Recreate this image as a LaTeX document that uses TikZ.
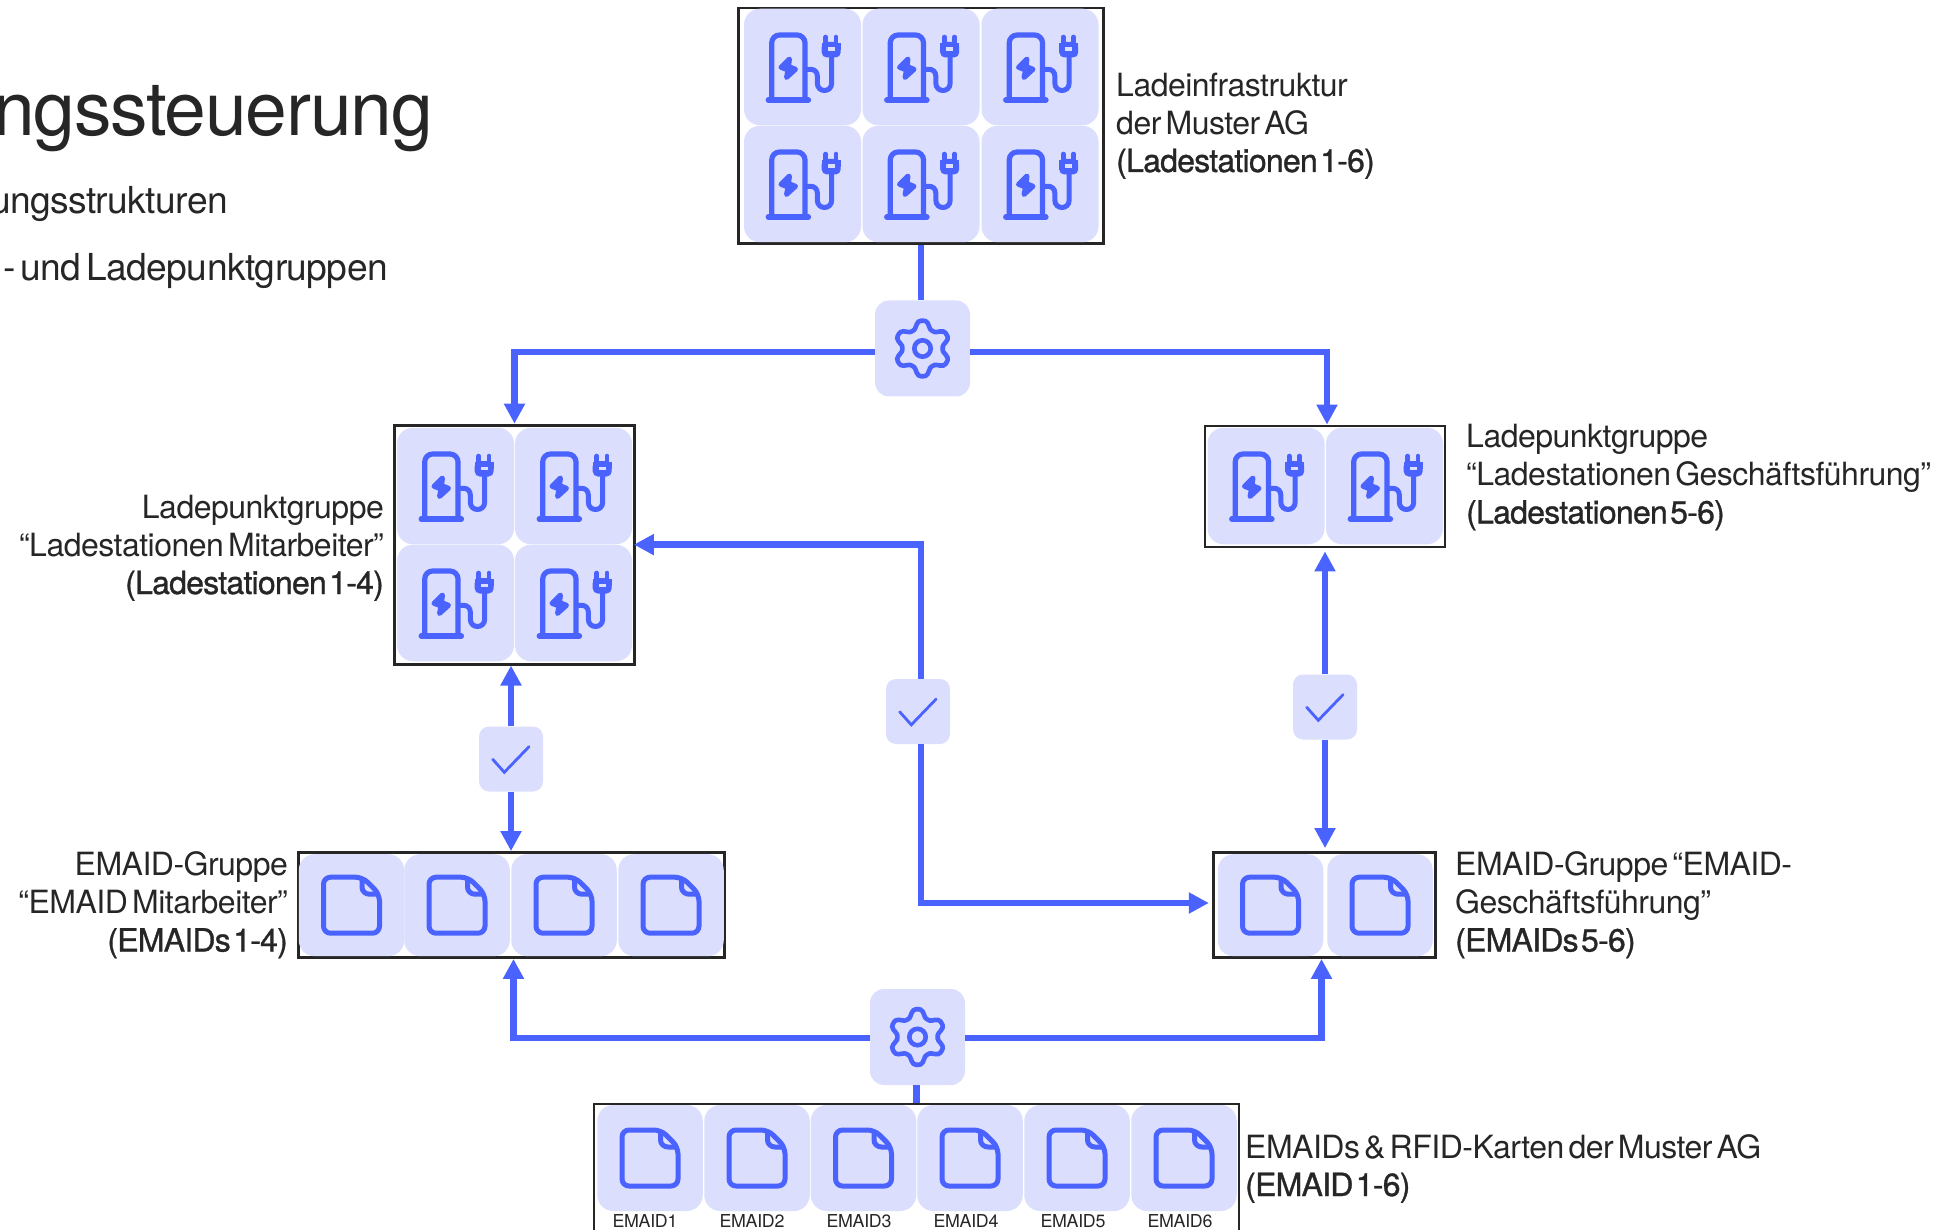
\documentclass[tikz,border=0pt]{standalone}
\usepackage{fontspec}
\setmainfont[LetterSpace=-1.6,WordSpace=0.5]{TeX Gyre Heros}
\newfontfamily\boldlbl[LetterSpace=-2.4,WordSpace=0.3,FakeBold=1]{TeX Gyre Heros}
\usetikzlibrary{arrows.meta}
\definecolor{flowblue}{HTML}{4A63FF}
\definecolor{tileblue}{HTML}{DCDEFD}
\definecolor{inkdark}{HTML}{262626}
\tikzset{
  framebox/.style={draw=inkdark,line width=2.8pt,fill=white,inner sep=0pt},
  tilebox/.style={fill=tileblue,rounded corners=16pt,inner sep=0pt,minimum width=#1},
  tilebox/.default=117pt,
  hubbox/.style={fill=tileblue,rounded corners=14pt,inner sep=0pt,minimum width=95pt,minimum height=96pt},
  checkbox/.style={fill=tileblue,rounded corners=10pt,inner sep=0pt,minimum width=64pt,minimum height=65pt},
  flow/.style={draw=flowblue,line width=6.5pt,-},
  flowarrow/.style={flow,-{Triangle[width=20pt,length=20pt]}},
  lbl/.style={font=\fontsize{32}{37.9}\selectfont,text=inkdark,inner sep=0pt},
  headline/.style={text=inkdark,inner sep=0pt},
  pics/charger/.style={code={
    \draw[flowblue,line width=5.2pt,line cap=round] (-34.3,33) -- (6,33);
    \draw[flowblue,line width=5.2pt,rounded corners=8pt] (-30.8,33) -- (-30.8,-32) -- (2.5,-32) -- (2.5,33);
    \draw[flowblue,line width=5pt] (2.5,2.3) -- (8,2.3) .. controls (12,2.3) and (14.8,5) .. (14.8,9) -- (14.8,16) .. controls (14.8,26) and (29.2,26) .. (29.2,16) -- (29.2,-10);
    \fill[flowblue,rounded corners=5pt] (19.2,-25) -- (38.2,-25) -- (38.2,-9.5) -- (19.2,-9.5) -- cycle;
    \fill[flowblue] (19.2,-24.3) rectangle (38.2,-17);
    \fill[tileblue] (25,-19.5) rectangle (32,-16);
    \draw[flowblue,line width=4.6pt,line cap=round] (23.2,-30) -- (23.2,-24) (33.5,-30) -- (33.5,-24);
    \filldraw[flowblue,line width=5pt,line join=round] (-13,-8) -- (-21.5,0.3) -- (-14.5,3) -- (-16,10.5) -- (-7,2.3) -- (-14,-0.5) -- cycle;
  }},
  pics/docfile/.style={code={
    \draw[flowblue,line width=5pt,rounded corners=7pt,line join=round] (-28,-28) -- (11,-28) -- (28,-11) -- (28,28) -- (-28,28) -- cycle;
    \draw[flowblue,line width=5pt] (10.5,-27) -- (10.5,-18) .. controls (10.5,-14) and (14,-11) .. (18,-11) -- (27,-11);
  }},
  pics/cogwheel/.style={code={
    \draw[flowblue,line width=4.6pt] plot[smooth cycle,samples=73,domain=0:355] ({(24+3.8*cos(6*(\x-90))*(1.5-0.5*cos(6*(\x-90))*cos(6*(\x-90))))*cos(\x)},{(24+3.8*cos(6*(\x-90))*(1.5-0.5*cos(6*(\x-90))*cos(6*(\x-90))))*sin(\x)});
    \draw[flowblue,line width=4.6pt] (0,0) circle[radius=8.2pt];
  }},
  pics/tick/.style={code={
    \draw[flowblue,line width=2.8pt,line cap=round,line join=miter] (-18.3,0.3) -- (-6.7,13.3) -- (18,-12.3);
  }},
}
\begin{document}
\begin{tikzpicture}[x=1pt,y=-1pt,>=Stealth]
  \clip (0,0) rectangle (1941,1230);

  \node[headline,anchor=base east,font=\fontsize{75}{75}\selectfont] (titleText) at (433,136) {ngssteuerung};
  \node[headline,anchor=base east,font=\fontsize{37.2}{37.2}\selectfont] (subOne) at (228,213.5) {ungsstrukturen};
  \node[headline,anchor=base east,font=\fontsize{37.2}{37.2}\selectfont] (subTwo) at (388,281) {- und Ladepunktgruppen};

  \node[framebox,minimum width=364.5pt,minimum height=235.5pt] (frameTop) at (921,125.8) {};
  \node[framebox,minimum width=240pt,minimum height=239pt] (frameLeft) at (514.5,544.6) {};
  \node[framebox,minimum width=240pt,minimum height=121pt] (frameRight) at (1325,486.5) {};
  \node[framebox,minimum width=426pt,minimum height=105pt] (frameEmaidLeft) at (511.5,905) {};
  \node[framebox,minimum width=222.5pt,minimum height=105pt] (frameEmaidRight) at (1324.5,905) {};
  \node[framebox,minimum width=645pt,minimum height=160pt] (frameBottom) at (916.5,1184) {};

  \foreach \cx/\nm in {802.5/a,921/b,1040/c}
    \foreach \cy/\rw in {67/1,184/2} {
      \node[tilebox,minimum height=116.5pt] (top\nm\rw) at (\cx,\cy) {};
      \pic at (top\nm\rw) {charger};
    }
  \foreach \cx/\nm in {455.5/a,573.5/b}
    \foreach \cy/\rw in {486/1,603/2} {
      \node[tilebox,minimum height=116.5pt] (mit\nm\rw) at (\cx,\cy) {};
      \pic at (mit\nm\rw) {charger};
    }
  \foreach \cx/\nm in {1266/a,1384.5/b} {
    \node[tilebox,minimum height=116.5pt] (chef\nm) at (\cx,486) {};
    \pic at (chef\nm) {charger};
  }
  \foreach \cx/\nm in {351.5/a,457/b,564/c,671/d} {
    \node[tilebox=105.5pt,minimum height=102pt] (doc\nm) at (\cx,905.2) {};
    \pic at (doc\nm) {docfile};
  }
  \foreach \cx/\nm in {1270.5/a,1380/b} {
    \node[tilebox=105.5pt,minimum height=102pt] (docchef\nm) at (\cx,905.2) {};
    \pic at (docchef\nm) {docfile};
  }
  \foreach \cx/\nm/\lx in {650/1/645,757/2/752,863.5/3/859,970/4/966,1077/5/1073,1184/6/1180} {
    \node[tilebox=105.5pt,minimum height=106pt] (card\nm) at (\cx,1158) {};
    \pic at (card\nm) {docfile};
    \node[anchor=base,font=\fontsize{17.8}{17.8}\selectfont,text=inkdark,inner sep=0pt] (cardText\nm) at (\lx,1227) {EMAID\nm};
  }

  \node[hubbox] (gearTop) at (922.5,348.5) {};
  \pic at (gearTop) {cogwheel};
  \node[hubbox] (gearBottom) at (917.5,1037) {};
  \pic at (gearBottom) {cogwheel};
  \node[checkbox] (checkLeft) at (511,759) {};
  \pic at (checkLeft) {tick};
  \node[checkbox] (checkMid) at (918,711.5) {};
  \pic at (checkMid) {tick};
  \node[checkbox] (checkRight) at (1325,707) {};
  \pic at (checkRight) {tick};

  \draw[flow] (frameTop.south) -- (gearTop.north -| frameTop.south);
  \draw[flowarrow] ([yshift=-3.5pt]gearTop.west) -| (frameLeft.north);
  \draw[flowarrow] ([yshift=-3.5pt]gearTop.east) -| ([xshift=2pt]frameRight.north);
  \draw[flow] (gearBottom.south -| frameBottom.north) -- (frameBottom.north);
  \draw[flowarrow] ([yshift=-1pt]gearBottom.west) -| ([xshift=2pt]frameEmaidLeft.south);
  \draw[flowarrow] ([yshift=-1pt]gearBottom.east) -| ([xshift=-3pt]frameEmaidRight.south);
  \draw[flowarrow] (checkLeft.north) -- (frameLeft.south -| checkLeft.north);
  \draw[flowarrow] (checkLeft.south) -- (frameEmaidLeft.north -| checkLeft.south);
  \draw[flowarrow,shorten >=-2pt] ([xshift=3pt]checkMid.north) |- (frameLeft.east);
  \draw[flowarrow,shorten >=3pt] ([xshift=3pt]checkMid.south) |- ([yshift=2pt]frameEmaidRight.west);
  \draw[flowarrow,shorten >=3pt] (checkRight.north) -- (frameRight.south -| checkRight.north);
  \draw[flowarrow,shorten >=3pt] (checkRight.south) -- (frameEmaidRight.north -| checkRight.south);

  \node[lbl,anchor=base west,align=left] (topText) at (1116,172) {Ladeinfrastruktur\\der Muster AG\\{\boldlbl (Ladestationen 1-6)}};
  \node[lbl,anchor=base east,align=right] (leftText) at (384,594) {Ladepunktgruppe\\“Ladestationen Mitarbeiter”\\{\boldlbl (Ladestationen 1-4)}};
  \node[lbl,anchor=base west,align=left] (rightText) at (1466,523.5) {Ladepunktgruppe\\“Ladestationen Geschäftsführung”\\{\boldlbl (Ladestationen 5-6)}};
  \node[lbl,anchor=base east,align=right] (emaidLeftText) at (288,951.5) {EMAID-Gruppe\\“EMAID Mitarbeiter”\\{\boldlbl (EMAIDs 1-4)}};
  \node[lbl,anchor=base west,align=left] (emaidRightText) at (1455,951.5) {EMAID-Gruppe “EMAID-\\Geschäftsführung”\\{\boldlbl (EMAIDs 5-6)}};
  \node[lbl,anchor=base west,align=left] (bottomText) at (1245,1196) {EMAIDs \& RFID-Karten der Muster AG\\{\boldlbl (EMAID 1-6)}};
\end{tikzpicture}
\end{document}
